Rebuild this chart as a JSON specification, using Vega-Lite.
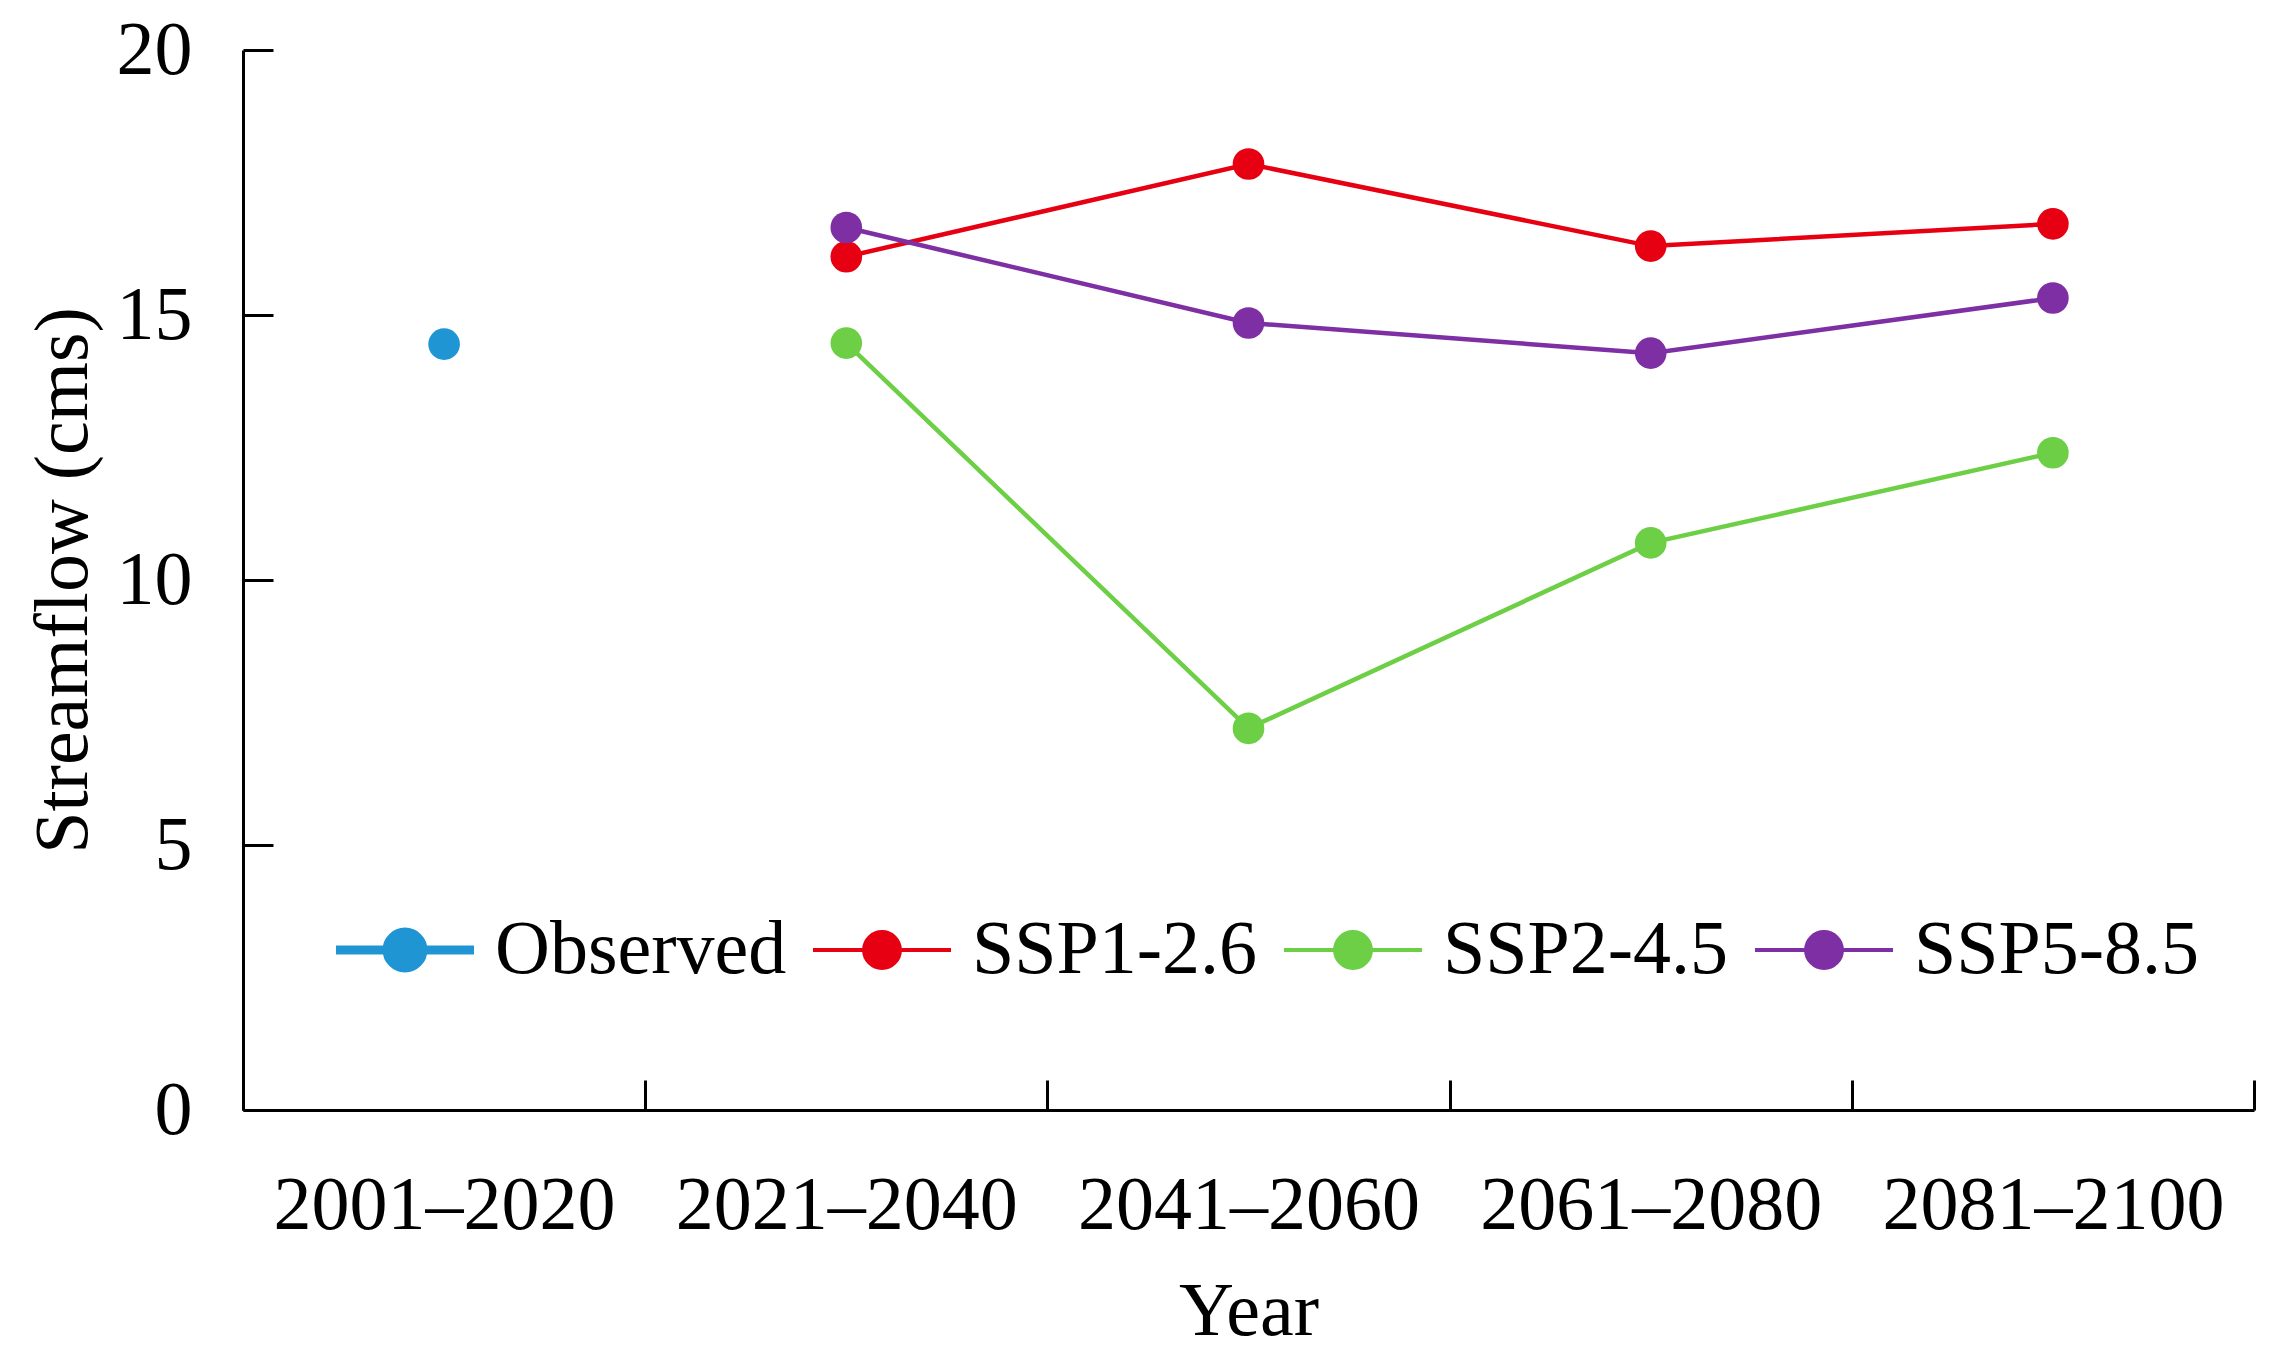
{
  "$schema": "https://vega.github.io/schema/vega-lite/v6.json",
  "width": 2011,
  "height": 1060,
  "autosize": {"type": "none"},
  "padding": {"left": 243, "top": 50, "right": 32, "bottom": 259},
  "background": "white",
  "config": {
    "font": "Liberation Serif",
    "view": {"stroke": null},
    "axis": {
      "labelFont": "Liberation Serif",
      "titleFont": "Liberation Serif",
      "labelFontSize": 76,
      "titleFontSize": 76,
      "labelColor": "black",
      "titleColor": "black",
      "titleFontWeight": "normal",
      "labelLimit": 0,
      "domainColor": "black",
      "domainWidth": 3,
      "tickColor": "black",
      "tickWidth": 3,
      "grid": false
    },
    "legend": {
      "labelFont": "Liberation Serif",
      "labelFontSize": 76,
      "labelColor": "black",
      "labelLimit": 0
    }
  },
  "data": {
    "values": [
      {"period": "2001–2020", "scenario": "Observed", "value": 14.45},
      {"period": "2021–2040", "scenario": "SSP1-2.6", "value": 16.1},
      {"period": "2041–2060", "scenario": "SSP1-2.6", "value": 17.85},
      {"period": "2061–2080", "scenario": "SSP1-2.6", "value": 16.3},
      {"period": "2081–2100", "scenario": "SSP1-2.6", "value": 16.72},
      {"period": "2021–2040", "scenario": "SSP2-4.5", "value": 14.47},
      {"period": "2041–2060", "scenario": "SSP2-4.5", "value": 7.2},
      {"period": "2061–2080", "scenario": "SSP2-4.5", "value": 10.7},
      {"period": "2081–2100", "scenario": "SSP2-4.5", "value": 12.4},
      {"period": "2021–2040", "scenario": "SSP5-8.5", "value": 16.65},
      {"period": "2041–2060", "scenario": "SSP5-8.5", "value": 14.85},
      {"period": "2061–2080", "scenario": "SSP5-8.5", "value": 14.28},
      {"period": "2081–2100", "scenario": "SSP5-8.5", "value": 15.32}
    ]
  },
  "encoding": {
    "x": {
      "field": "period",
      "type": "ordinal",
      "sort": null,
      "scale": {"type": "band", "paddingInner": 0, "paddingOuter": 0},
      "axis": {
        "title": "Year",
        "labelAngle": 0,
        "tickBand": "extent",
        "tickSize": -30,
        "labelPadding": 88,
        "titlePadding": 31
      }
    },
    "y": {
      "field": "value",
      "type": "quantitative",
      "scale": {"domain": [0, 20], "nice": false, "zero": true},
      "axis": {
        "title": "Streamflow (cms)",
        "values": [0, 5, 10, 15, 20],
        "tickSize": -30,
        "labelPadding": 81,
        "titlePadding": 14
      }
    },
    "color": {
      "field": "scenario",
      "type": "nominal",
      "scale": {
        "domain": ["Observed", "SSP1-2.6", "SSP2-4.5", "SSP5-8.5"],
        "range": ["#1f95d4", "#e60012", "#6ccf45", "#7d2fa3"]
      },
      "legend": {
        "title": null,
        "orient": "none",
        "direction": "horizontal",
        "columns": 4,
        "legendX": 124,
        "legendY": 862,
        "symbolType": "M-1,0H1M-0.26,0a0.26,0.26 0 1,0 0.52,0a0.26,0.26 0 1,0 -0.52,0",
        "symbolSize": 19044,
        "symbolStrokeWidth": 4,
        "labelOffset": 52,
        "columnPadding": 18,
        "encode": {
          "symbols": {
            "update": {
              "fill": {"scale": "color", "field": "value"},
              "stroke": {"scale": "color", "field": "value"},
              "strokeWidth": {"signal": "datum.value === 'Observed' ? 9 : 4"},
              "opacity": {"value": 1}
            }
          }
        }
      }
    }
  },
  "layer": [
    {"mark": {"type": "line", "strokeWidth": 4.5}},
    {"mark": {"type": "point", "filled": true, "size": 1000, "opacity": 1}}
  ]
}
